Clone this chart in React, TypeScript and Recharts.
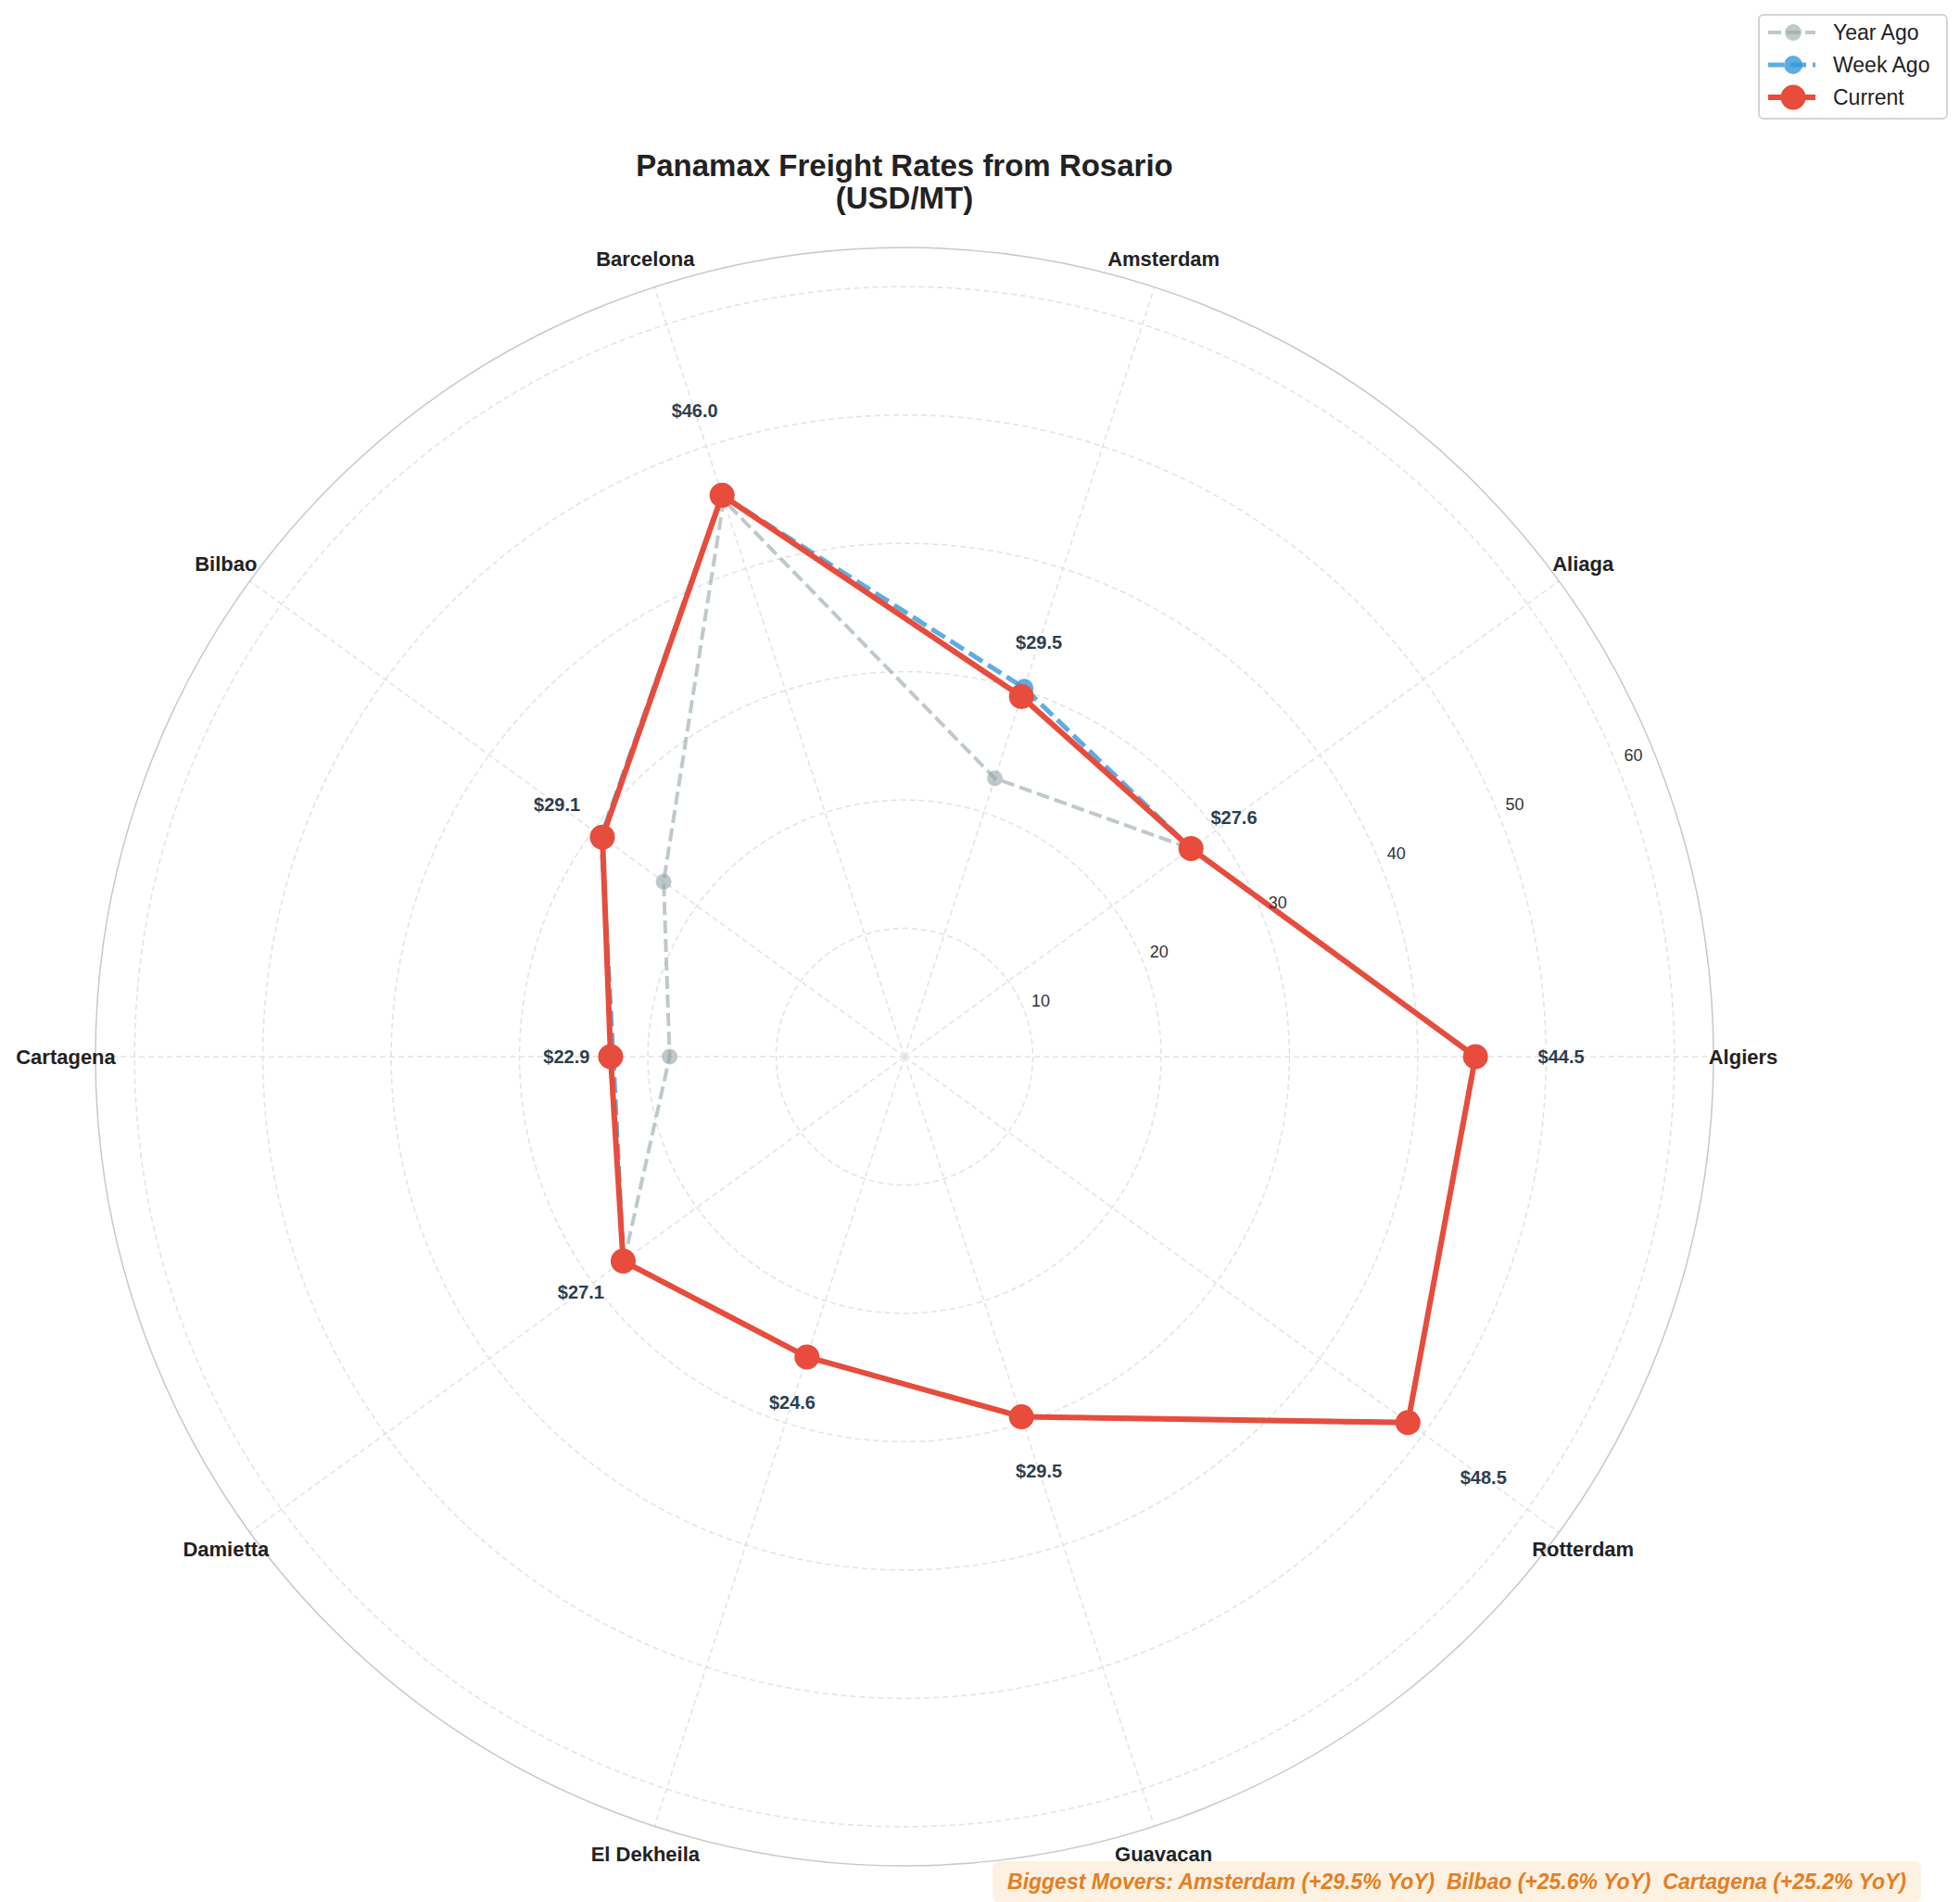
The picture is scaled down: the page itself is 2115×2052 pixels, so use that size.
import React from 'react'
import { RadarChart, Radar, PolarGrid, PolarAngleAxis, PolarRadiusAxis } from 'recharts'

const ports = [
  'Algiers',
  'Aliaga',
  'Amsterdam',
  'Barcelona',
  'Bilbao',
  'Cartagena',
  'Damietta',
  'El Dekheila',
  'Guavacan',
  'Rotterdam',
]
const yearAgo = [44.5, 27.6, 22.8, 45.6, 23.2, 18.3, 27.0, 24.6, 29.5, 48.5]
const weekAgo = [44.5, 27.6, 30.2, 46.0, 29.2, 22.7, 27.1, 24.6, 29.5, 48.5]
const current = [44.5, 27.6, 29.5, 46.0, 29.1, 22.9, 27.1, 24.6, 29.5, 48.5]
const rateTicks = [10, 20, 30, 40, 50, 60]
const movers = ['Amsterdam (+29.5% YoY)', 'Bilbao (+25.6% YoY)', 'Cartagena (+25.2% YoY)']

// radial limit is 1.3x the highest current rate
const RMAX = Math.max(...current) * 1.3
const CX = 976
const CY = 1140
const OUTER = 873
const FONT = '"Liberation Sans", Arial, sans-serif'

// ports run counter-clockwise from east; the chart walks clockwise from east,
// so feed it Algiers first and the rest reversed
const order = [0, ...ports.map((_, i) => i).slice(1).reverse()]
const data = order.map((i) => ({
  port: ports[i],
  yearAgo: yearAgo[i],
  weekAgo: weekAgo[i],
  current: current[i],
}))

function PortTick(props: any) {
  const { x, y, payload } = props
  return (
    <text
      x={x}
      y={y}
      textAnchor="middle"
      dominantBaseline="central"
      fontSize={22}
      fontWeight="bold"
      fontFamily={FONT}
      fill="#222"
    >
      {payload.value}
    </text>
  )
}

function RateTick(props: any) {
  const { x, y, payload } = props
  return (
    <text
      x={x + 19}
      y={y - 7}
      textAnchor="middle"
      dominantBaseline="central"
      fontSize={18}
      fontFamily={FONT}
      fill="#333"
    >
      {payload.value}
    </text>
  )
}

function makeDot(r: number, fill: string, opacity: number) {
  return (p: any) => (
    <circle key={`dot-${fill}-${p.index}`} cx={p.cx} cy={p.cy} r={r} fill={fill} fillOpacity={opacity} />
  )
}

// current dots also carry the value label, pushed 15% further out
function CurrentDot(p: any) {
  const lx = CX + (p.cx - CX) * 1.15
  const ly = CY + (p.cy - CY) * 1.15
  return (
    <g key={`cur-${p.index}`}>
      <circle cx={p.cx} cy={p.cy} r={13.5} fill="#e74c3c" />
      <text
        x={lx}
        y={ly}
        textAnchor="middle"
        dominantBaseline="central"
        fontSize={20}
        fontWeight="bold"
        fontFamily={FONT}
        fill="#2c3e50"
      >
        {'$' + data[p.index].current.toFixed(1)}
      </text>
    </g>
  )
}

const legendRows = [
  { name: 'Year Ago', color: '#95a5a6', opacity: 0.6, width: 4, dash: '14 6', r: 9 },
  { name: 'Week Ago', color: '#3498db', opacity: 0.8, width: 5, dash: '17 7', r: 10 },
  { name: 'Current', color: '#e74c3c', opacity: 1, width: 6, dash: undefined, r: 13.5 },
]

function LegendBox() {
  return (
    <div
      style={{
        position: 'absolute',
        left: 1897,
        top: 15,
        width: 205,
        height: 114,
        border: '2px solid #d4d4d4',
        borderRadius: 6,
        background: '#fff',
        boxSizing: 'border-box',
        fontFamily: FONT,
      }}
    >
      {legendRows.map((row, i) => (
        <div
          key={row.name}
          style={{ position: 'absolute', left: 0, top: i * 35, height: 36, width: 200 }}
        >
          <svg width={70} height={36} style={{ position: 'absolute', left: 6, top: 0 }}>
            <line
              x1={3}
              x2={54}
              y1={18}
              y2={18}
              stroke={row.color}
              strokeOpacity={row.opacity}
              strokeWidth={row.width}
              strokeDasharray={row.dash}
            />
            <circle cx={30} cy={18} r={row.r} fill={row.color} fillOpacity={row.opacity} />
          </svg>
          <span
            style={{
              position: 'absolute',
              left: 79,
              top: 0,
              lineHeight: '36px',
              fontSize: 23,
              color: '#222',
            }}
          >
            {row.name}
          </span>
        </div>
      ))}
    </div>
  )
}

export default function App() {
  return (
    <div
      style={{
        position: 'absolute',
        left: 0,
        top: 0,
        width: 2115,
        height: 2052,
        background: '#fff',
        fontFamily: FONT,
      }}
    >
      <div
        style={{
          position: 'absolute',
          left: CX - 500,
          top: 161,
          width: 1000,
          textAlign: 'center',
          fontSize: 33,
          fontWeight: 'bold',
          lineHeight: '35px',
          color: '#222',
        }}
      >
        Panamax Freight Rates from Rosario
        <br />
        (USD/MT)
      </div>

      <div style={{ position: 'absolute', left: 0, top: 0 }}>
        <RadarChart
          width={2115}
          height={2052}
          data={data}
          cx={CX}
          cy={CY}
          outerRadius={OUTER}
          startAngle={0}
          endAngle={-360}
          margin={{ top: 0, right: 0, bottom: 0, left: 0 }}
        >
          <PolarGrid gridType="circle" stroke="#e2e2e2" strokeWidth={1.5} strokeDasharray="6 4" />
          <PolarGrid
            gridType="circle"
            radialLines={false}
            polarRadius={[OUTER]}
            stroke="#c8c8c8"
            strokeWidth={1.5}
          />
          <PolarAngleAxis
            dataKey="port"
            tickSize={32}
            tickLine={false}
            axisLine={false}
            tick={PortTick}
          />
          <PolarRadiusAxis
            angle={22.5}
            domain={[0, RMAX]}
            ticks={rateTicks}
            axisLine={false}
            tickLine={false}
            tick={RateTick}
          />
          <Radar
            name="Year Ago"
            dataKey="yearAgo"
            stroke="#95a5a6"
            strokeOpacity={0.6}
            strokeWidth={4}
            strokeDasharray="14 6"
            fill="none"
            fillOpacity={0}
            dot={makeDot(8.5, '#95a5a6', 0.6)}
            isAnimationActive={false}
          />
          <Radar
            name="Week Ago"
            dataKey="weekAgo"
            stroke="#3498db"
            strokeOpacity={0.8}
            strokeWidth={5}
            strokeDasharray="17 7"
            fill="none"
            fillOpacity={0}
            dot={makeDot(10, '#3498db', 0.8)}
            isAnimationActive={false}
          />
          <Radar
            name="Current"
            dataKey="current"
            stroke="#e74c3c"
            strokeWidth={6}
            strokeLinejoin="round"
            fill="none"
            fillOpacity={0}
            dot={CurrentDot}
            isAnimationActive={false}
          />
        </RadarChart>
      </div>

      <LegendBox />

      <div
        style={{
          position: 'absolute',
          left: 1071,
          top: 2008,
          width: 1002,
          height: 44,
          background: '#fdf1e1',
          borderRadius: 7,
          color: '#e67e22',
          fontSize: 23,
          fontWeight: 'bold',
          fontStyle: 'italic',
          lineHeight: '44px',
          textAlign: 'center',
          whiteSpace: 'pre',
        }}
      >
        {'Biggest Movers: ' + movers.join('  ')}
      </div>
    </div>
  )
}
